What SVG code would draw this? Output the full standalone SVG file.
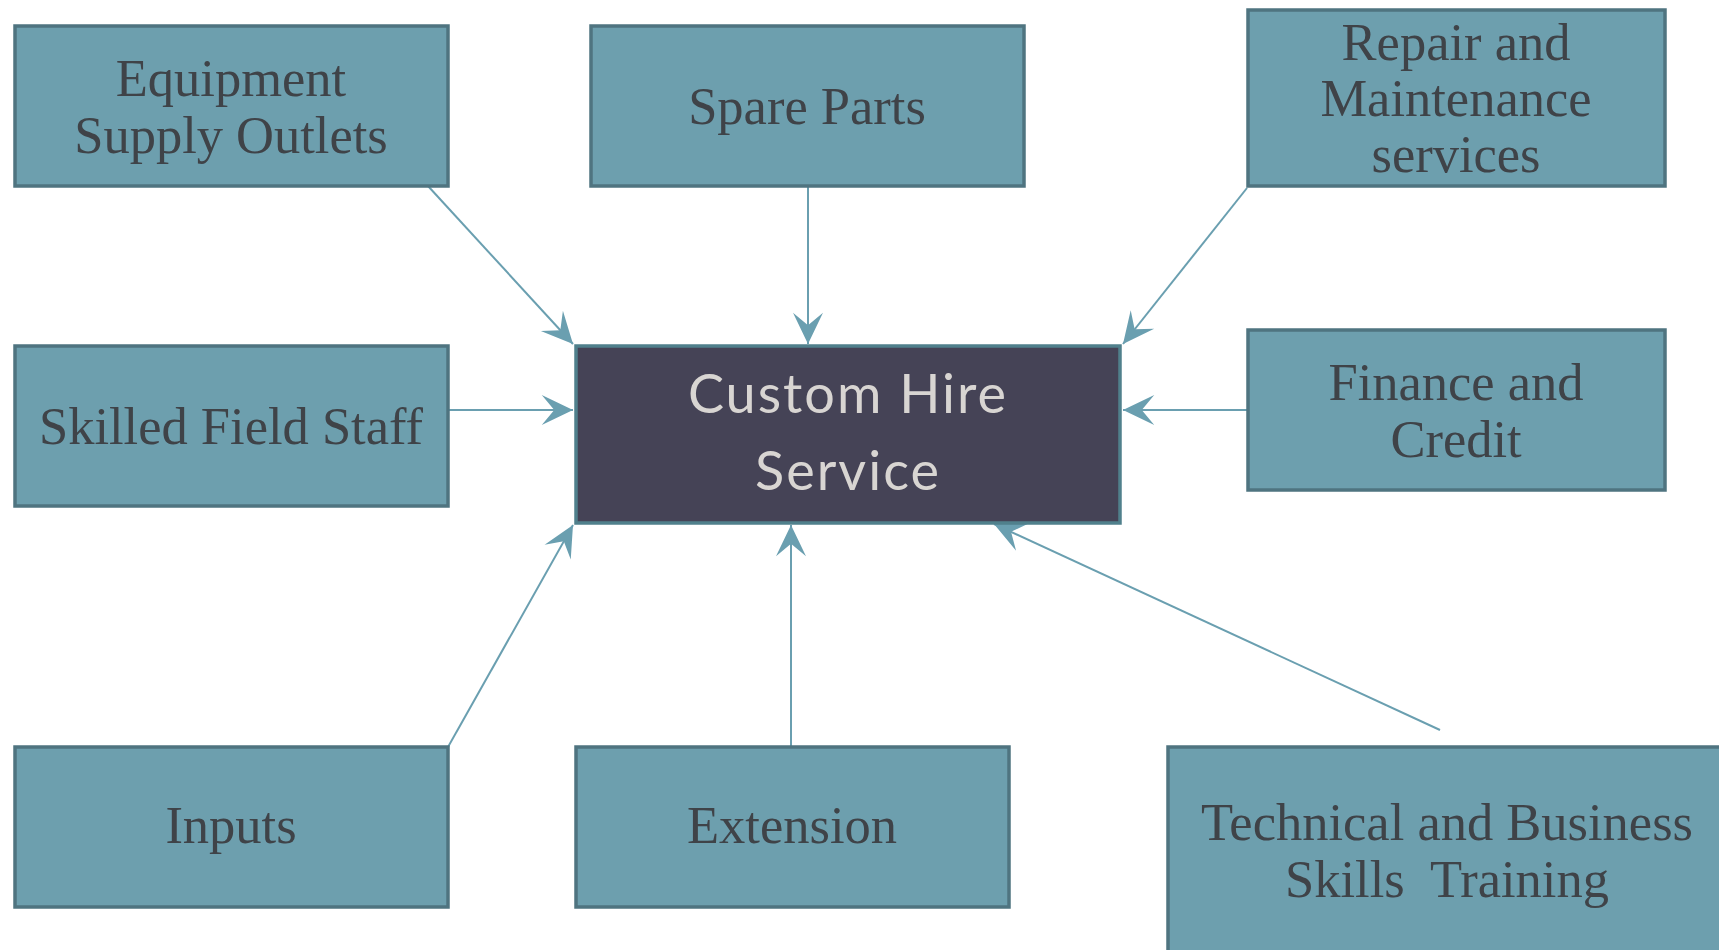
<svg xmlns="http://www.w3.org/2000/svg" width="1719" height="950" viewBox="0 0 1719 950">
<style>
.box{fill:#6d9fae;stroke:#4f7480;stroke-width:3.5}
.core{fill:#454356;stroke:#50808c;stroke-width:3.5}
.lbl{font-family:"Liberation Serif","Times New Roman",serif;font-size:52.5px;fill:#3f4348;text-anchor:middle;white-space:pre}
.clbl{font-family:Lato,"Open Sans",sans-serif;font-size:54px;fill:#d8d5d2;text-anchor:middle;letter-spacing:2px}
.con{stroke:#6a9fb0;stroke-width:2;fill:none;marker-end:url(#arr)}
</style>
<defs>
<marker id="arr" markerUnits="userSpaceOnUse" markerWidth="40" markerHeight="40" viewBox="-30 -15 32 30" refX="0" refY="0" orient="auto">
<path d="M0,0 L-25,-12 L-15,0 L-25,12 Z" fill="#6a9fb0"/>
</marker>
</defs>
<g id="connectors">
<line class="con" x1="428" y1="186" x2="573" y2="344"/>
<line class="con" x1="808" y1="186" x2="808" y2="344"/>
<line class="con" x1="1247" y1="188" x2="1123" y2="344"/>
<line class="con" x1="448" y1="410" x2="573" y2="410"/>
<line class="con" x1="1247" y1="410" x2="1123" y2="410"/>
<line class="con" x1="448" y1="747" x2="573" y2="525"/>
<line class="con" x1="791" y1="747" x2="791" y2="525"/>
<line class="con" x1="1440" y1="730" x2="994" y2="524"/>
</g>
<g id="n-equipment">
<rect class="box" x="15" y="26" width="433" height="160"/>
<text class="lbl" x="231" y="96">Equipment</text>
<text class="lbl" x="231" y="153">Supply Outlets</text>
</g>
<g id="n-spare">
<rect class="box" x="591" y="26" width="433" height="160"/>
<text class="lbl" x="807" y="124">Spare Parts</text>
</g>
<g id="n-repair">
<rect class="box" x="1248" y="10" width="417" height="176"/>
<text class="lbl" x="1456" y="60">Repair and</text>
<text class="lbl" x="1456" y="116">Maintenance</text>
<text class="lbl" x="1456" y="172">services</text>
</g>
<g id="n-skilled">
<rect class="box" x="15" y="346" width="433" height="160"/>
<text class="lbl" x="231" y="444">Skilled Field Staff</text>
</g>
<g id="n-core">
<rect class="core" x="576" y="346" width="544" height="177"/>
<text class="clbl" x="848" y="413">Custom Hire</text>
<text class="clbl" x="848" y="490">Service</text>
</g>
<g id="n-finance">
<rect class="box" x="1248" y="330" width="417" height="160"/>
<text class="lbl" x="1456" y="400">Finance and</text>
<text class="lbl" x="1456" y="457">Credit</text>
</g>
<g id="n-inputs">
<rect class="box" x="15" y="747" width="433" height="160"/>
<text class="lbl" x="231" y="843">Inputs</text>
</g>
<g id="n-extension">
<rect class="box" x="576" y="747" width="433" height="160"/>
<text class="lbl" x="792" y="843">Extension</text>
</g>
<g id="n-training">
<rect class="box" x="1168" y="747" width="570" height="220"/>
<text class="lbl" x="1447" y="840">Technical and Business</text>
<text class="lbl" x="1447" y="897">Skills  Training</text>
</g>
</svg>
